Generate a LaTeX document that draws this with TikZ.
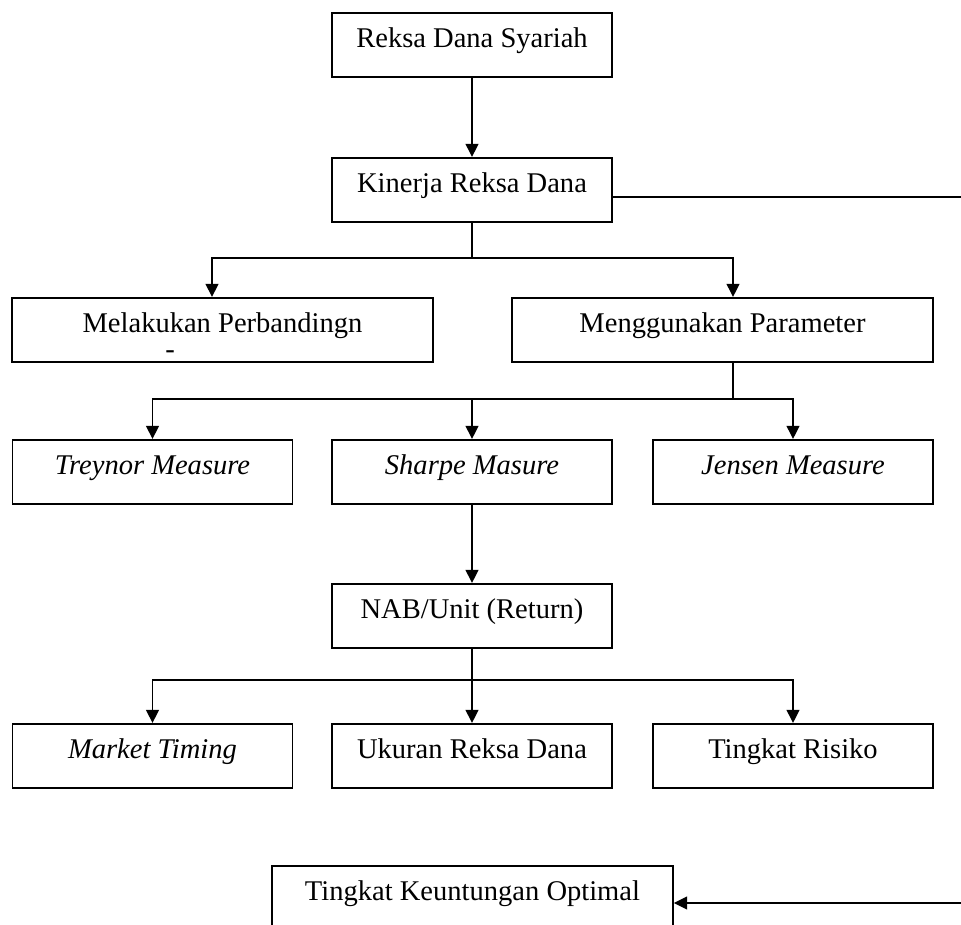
\documentclass[tikz,border=0pt]{standalone}
\usepackage{fontspec}
\setmainfont{Liberation Serif}
\usepackage{tikz}
\usetikzlibrary{shapes}
\usetikzlibrary{arrows.meta}
\newcommand{\kotakfont}{\fontsize{20.3}{24}\selectfont}
\tikzset{
  box/.style={rectangle,draw,inner xsep=0pt,inner ysep=0pt,minimum width=7cm,text height=0.875cm,text depth=0.725cm,anchor=north,font=\kotakfont},
  wide box/.style={box,minimum width=10.525cm},
  long box/.style={box,minimum width=10.025cm}
}
\begin{document}
\begin{tikzpicture}[>={Triangle[length=0.33cm,width=0.32cm]},line width=1.2pt]
  \useasboundingbox (0,0) rectangle (24.025,-23.1);

  \node[box] (reksa) at (11.8,-0.3) {Reksa Dana Syariah};
  \node[box] (kinerja) at (11.8,-3.925) {Kinerja Reksa Dana};

  \node[wide box] (banding) at (5.5625,-7.425) {Melakukan Perbandingn};
  \node[anchor=base,inner sep=0pt,text height=0.3cm,text depth=0pt,font=\kotakfont] (strip) at (4.25,-8.95) {-};
  \node[wide box] (parameter) at (18.0625,-7.425) {Menggunakan Parameter};

  \node[box] (treynor) at (3.8125,-10.975) {\itshape Treynor Measure};
  \node[box] (sharpe) at (11.8,-10.975) {\itshape Sharpe Masure};
  \node[box] (jensen) at (19.825,-10.975) {\itshape Jensen Measure};

  \node[box] (nab) at (11.8,-14.575) {NAB/Unit (Return)};

  \node[box] (timing) at (3.8125,-18.075) {\itshape Market Timing};
  \node[box] (ukuran) at (11.8,-18.075) {Ukuran Reksa Dana};
  \node[box] (risiko) at (19.825,-18.075) {Tingkat Risiko};

  \node[long box] (optimal) at (11.8125,-21.625) {Tingkat Keuntungan Optimal};

  % cabang
  \coordinate (c1) at (11.8,-6.45);
  \coordinate (c2) at (18.325,-9.975);
  \coordinate (c3) at (11.8,-17.0);
  \coordinate (kanan1) at (24.025,-4.925);
  \coordinate (kanan2) at (24.025,-22.575);

  \draw[->] (reksa) -- (kinerja);
  \draw (kinerja) -- (c1);
  \draw[->] (c1) -| ([xshift=-0.2625cm]banding.north);
  \draw[->] (c1) -| ([xshift=0.2625cm]parameter.north);

  \draw ([xshift=0.2625cm]parameter.south) -- (c2);
  \draw[->] (c2) -| (treynor.north);
  \draw[->] (c2) -| (sharpe.north);
  \draw[->] (c2) -| (jensen.north);

  \draw[->] (sharpe) -- (nab);
  \draw (nab) -- (c3);
  \draw[->] (c3) -| (timing.north);
  \draw[->] (c3) -- (ukuran.north);
  \draw[->] (c3) -| (risiko.north);

  \draw (kinerja.east |- kanan1) -- (kanan1);
  \draw[->] (kanan2) -- (optimal.east |- kanan2);
\end{tikzpicture}
\end{document}
